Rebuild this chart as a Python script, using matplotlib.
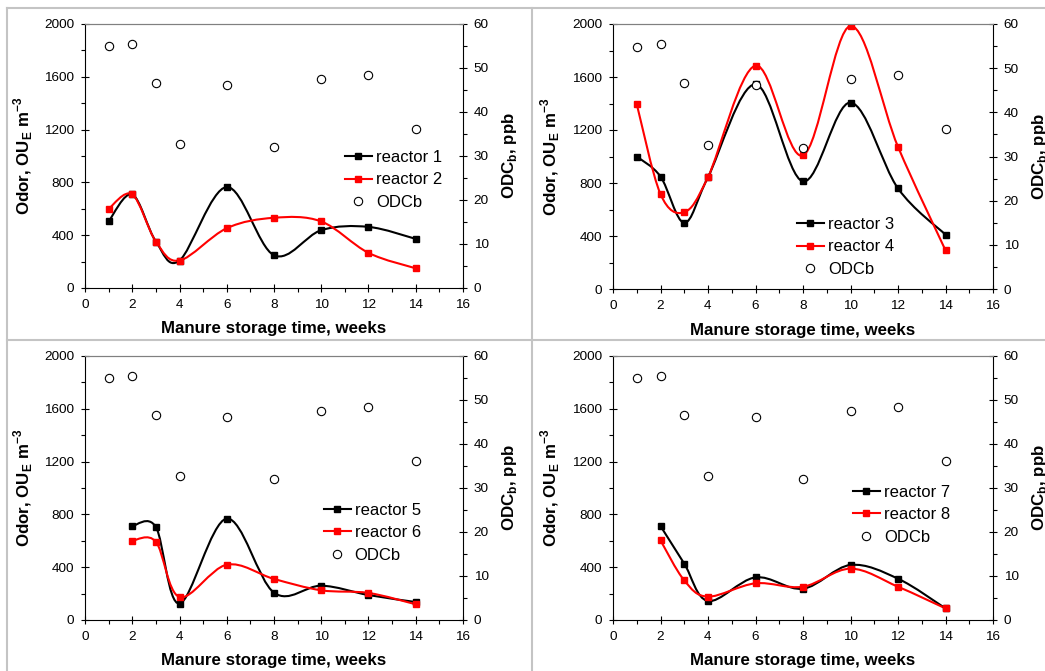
import matplotlib
matplotlib.use("Agg")
import matplotlib.pyplot as plt
import numpy as np
from matplotlib.lines import Line2D
from matplotlib.path import Path
from matplotlib.patches import PathPatch
from matplotlib.ticker import MultipleLocator

plt.rcParams["font.family"] = ["Liberation Sans", "DejaVu Sans"]

# data
weeks_a = [1, 2, 3, 4, 6, 8, 10, 12, 14]
weeks_b = [2, 3, 4, 6, 8, 10, 12, 14]
odcb = [54.9, 55.4, 46.6, 32.7, 46.2, 32.0, 47.6, 48.4, 36.2]

reactor_1 = [505, 709, 352, 208, 765, 248, 438, 463, 372]
reactor_2 = [600, 709, 352, 208, 453, 532, 504, 266, 149]
reactor_3 = [1000, 849, 500, 844, 1545, 812, 1407, 759, 410]
reactor_4 = [1395, 716, 580, 844, 1686, 1008, 1985, 1073, 292]
reactor_5 = [712, 704, 124, 768, 207, 260, 189, 136]
reactor_6 = [601, 593, 174, 419, 311, 225, 205, 119]
reactor_7 = [712, 427, 144, 323, 237, 417, 313, 88]
reactor_8 = [603, 300, 177, 278, 252, 389, 252, 88]

panels = [
    # (weeks, black series, red series, labels, axes rect, legend anchor)
    (weeks_a, reactor_1, reactor_2, ("reactor 1", "reactor 2"),
     [85 / 1045, 383 / 671, 378 / 1045, 264 / 671], (0.688, 0.523)),
    (weeks_a, reactor_3, reactor_4, ("reactor 3", "reactor 4"),
     [613 / 1045, 382 / 671, 380 / 1045, 265 / 671], (0.484, 0.272)),
    (weeks_b, reactor_5, reactor_6, ("reactor 5", "reactor 6"),
     [85 / 1045, 51 / 671, 378 / 1045, 264 / 671], (0.632, 0.444)),
    (weeks_b, reactor_7, reactor_8, ("reactor 7", "reactor 8"),
     [613 / 1045, 51 / 671, 380 / 1045, 264 / 671], (0.632, 0.512)),
]


def smooth_path(x, y):
    """Excel style smoothed line: Catmull-Rom segments as cubic Beziers."""
    p = np.column_stack([x, y]).astype(float)
    n = len(p)
    verts = [p[0]]
    codes = [Path.MOVETO]
    for i in range(n - 1):
        p0 = p[i - 1] if i > 0 else p[i]
        p3 = p[i + 2] if i + 2 < n else p[i + 1]
        c1 = p[i] + (p[i + 1] - p0) / 6
        c2 = p[i + 1] - (p3 - p[i]) / 6
        verts += [c1, c2, p[i + 1]]
        codes += [Path.CURVE4] * 3
    return Path(verts, codes)


fig = plt.figure(figsize=(10.45, 6.71), dpi=100)

# grey panel borders
grey = "#c4c4c4"
for x in (7, 532):
    fig.add_artist(Line2D([x / 1045, x / 1045], [0, 1 - 8 / 671],
                          color=grey, lw=1.5))
for y in (8, 340):
    fig.add_artist(Line2D([7 / 1045, 1], [1 - y / 671, 1 - y / 671],
                          color=grey, lw=1.5))

for weeks, black, red, labels, rect, anchor in panels:
    ax = fig.add_axes(rect)
    ax2 = ax.twinx()

    for series, color in ((black, "black"), (red, "red")):
        ax.add_patch(PathPatch(smooth_path(weeks, series), facecolor="none",
                               edgecolor=color, lw=1.5, zorder=2))
        ax.plot(weeks, series, ls="none", marker="s", ms=5, color=color,
                zorder=3)
    ax2.plot(weeks_a, odcb, ls="none", marker="o", ms=6, mfc="white",
             mec="black", mew=0.8)

    ax.set_xlim(0, 16)
    ax.set_ylim(0, 2000)
    ax2.set_ylim(0, 60)
    ax.xaxis.set_major_locator(MultipleLocator(2))
    ax.xaxis.set_minor_locator(MultipleLocator(1))
    ax.yaxis.set_major_locator(MultipleLocator(400))
    ax.yaxis.set_minor_locator(MultipleLocator(200))
    ax2.yaxis.set_major_locator(MultipleLocator(10))
    ax2.yaxis.set_minor_locator(MultipleLocator(5))

    for a in (ax, ax2):
        a.tick_params(which="major", direction="inout", length=5.5,
                      width=0.8, labelsize=9.7, pad=5)
        a.tick_params(which="minor", direction="out", length=3, width=0.8)
        a.spines["top"].set_color("#808080")
    ax.spines["right"].set_visible(False)
    ax2.spines["left"].set_visible(False)
    ax2.spines["bottom"].set_visible(False)

    ax.set_xlabel("Manure storage time, weeks", fontsize=12.2,
                  fontweight="bold")
    ax.xaxis.set_label_coords(0.5, -0.155)
    ax.xaxis.label.set_va("center")
    ax.set_ylabel(r"Odor, OU$_\mathregular{E}$ m$^\mathregular{-3}$",
                  fontsize=12.2, fontweight="bold")
    ax.yaxis.set_label_coords(-0.164, 0.5)
    ax.yaxis.label.set_va("center")
    ax2.set_ylabel(r"ODC$_\mathregular{b}$, ppb", fontsize=12.2,
                   fontweight="bold")
    ax2.yaxis.set_label_coords(1.122, 0.5)
    ax2.yaxis.label.set_va("center")

    handles = [
        Line2D([], [], color="black", lw=1.5, marker="s", ms=5),
        Line2D([], [], color="red", lw=1.5, marker="s", ms=5),
        Line2D([], [], ls="none", marker="o", ms=6, mfc="white",
               mec="black", mew=0.8),
    ]
    ax2.legend(handles, [labels[0], labels[1], "ODCb"], loc="upper left",
               bbox_to_anchor=anchor, frameon=False, fontsize=12,
               numpoints=1, handlelength=1.6, handletextpad=0.25,
               labelspacing=0.45, borderpad=0, borderaxespad=0)

fig.savefig("out.png", dpi=100)
